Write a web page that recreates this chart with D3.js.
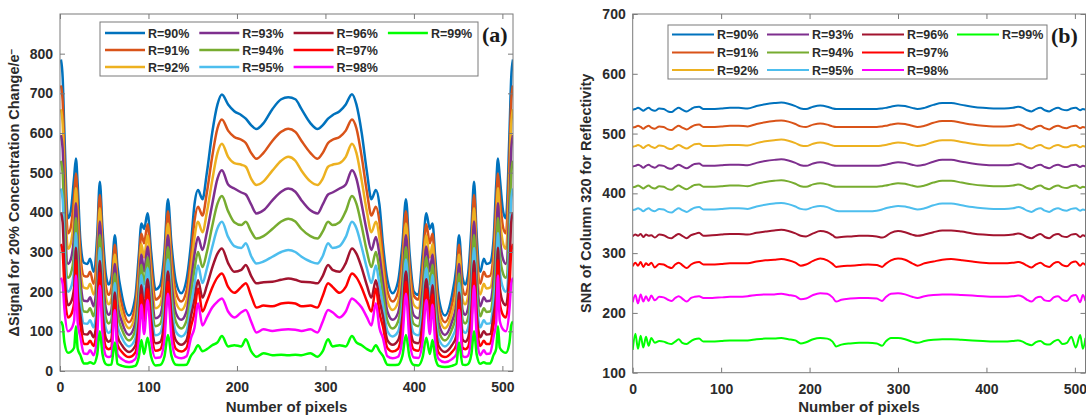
<!DOCTYPE html>
<html><head><meta charset="utf-8">
<script src="https://cdn.jsdelivr.net/npm/d3@7"></script>
<style>body{margin:0;background:#fff;} svg{display:block;}</style>
</head><body>
<svg id="chart" width="1086" height="420"></svg>
<script>
// ---------- shared ----------
const seriesNames = ["R=90%","R=91%","R=92%","R=93%","R=94%","R=95%","R=96%","R=97%","R=98%","R=99%"];
const seriesColors = ["#0072BD","#D95319","#EDB120","#7E2F8E","#77AC30","#4DBEEE","#A2142F","#FF0000","#FF00FF","#00FF00"];

// ---------- panel (a): ΔSignal ----------
const pixelsA = [1,3,5,9,12,16,18,20,23,27,31,34,38,42,45,48,52,55,58,62,65,70,78,85,89,92,95,99,103,108,113,118,122,126,131,137,143,148,152,156,161,166,172,178,183,190,197,205,210,216,222,230,240,250,258,
266,273,283,291,297,303,308,316,323,330,335,341,347,352,357,361,365,370,376,382,387,391,395,400,405,410,414,418,421,424,428,435,443,448,451,455,458,461,465,468,471,475,479,482,486,490,493,495,497,501,504,508,510,512];

const signalR90 = [785,740,600,385,400,490,536,470,330,273,270,283,250,340,477,360,240,218,235,342,262,190,140,185,290,372,358,398,300,205,215,300,433,320,225,196,230,320,420,456,433,500,600,672,697,672,655,645,636,620,610,625,660,685,690,
685,660,625,610,620,636,645,655,672,698,672,600,500,433,456,420,320,230,196,225,320,433,300,200,192,300,398,358,372,290,185,140,190,262,342,235,218,240,360,477,340,250,283,270,273,330,470,536,490,400,385,600,740,785];
const signalR91 = [720,680,540,347,360,441,498,423,297,240,238,250,220,306,444,324,211,192,207,318,231,167,123,163,261,346,322,370,270,180,189,270,403,288,198,175,202,288,378,414,392,450,540,612,634,606,590,583,575,550,535,550,580,603,611,
603,580,550,535,550,575,583,590,606,634,612,540,450,392,414,378,288,202,175,198,288,403,270,189,180,270,370,322,346,261,163,123,167,231,318,207,192,211,324,444,306,220,250,238,240,297,423,498,441,360,347,540,680,720];
const signalR92 = [660,622,480,308,320,392,461,376,264,210,208,220,193,272,410,288,185,168,181,294,202,146,108,142,232,320,286,342,240,158,166,240,372,256,173,154,177,256,336,376,350,400,480,550,573,540,524,520,515,485,469,478,505,530,540,
530,505,478,469,485,515,520,524,540,573,550,480,400,350,376,336,256,177,154,173,256,372,240,166,158,240,342,286,320,232,142,108,146,202,294,181,168,185,288,410,272,193,220,208,210,264,376,461,392,320,308,480,622,660];
const signalR93 = [595,560,420,270,280,343,423,329,231,177,176,186,163,238,377,252,156,142,153,270,170,124,91,120,203,294,251,314,210,133,140,210,342,224,146,129,150,224,294,338,305,350,420,485,506,470,460,450,445,420,397,405,430,452,460,
452,430,405,397,420,445,450,460,470,506,485,420,350,305,338,294,224,150,129,146,224,342,210,140,133,210,314,251,294,203,120,91,124,170,270,153,142,156,252,377,238,163,186,176,177,231,329,423,343,280,270,420,560,595];
const signalR94 = [530,498,366,235,244,299,386,287,201,150,149,158,138,207,343,220,132,120,129,246,144,105,77,102,177,268,218,287,183,113,118,183,312,195,124,107,127,195,256,300,262,300,365,422,441,403,375,368,376,352,334,340,358,377,384,
377,358,340,334,352,376,368,375,403,441,422,365,300,262,300,256,195,127,107,124,195,312,183,118,113,183,287,218,268,177,102,77,105,144,246,129,120,132,220,343,207,138,158,149,150,201,287,386,299,244,235,366,498,530];
const signalR95 = [460,432,312,200,208,255,348,244,172,120,119,128,110,177,310,187,106,96,103,222,115,84,62,81,151,242,186,259,156,90,95,156,281,166,99,87,101,166,218,266,222,258,312,360,376,338,315,310,322,290,271,276,288,300,305,
300,288,276,271,290,322,310,315,338,376,360,312,258,222,266,218,166,101,87,99,166,281,156,95,90,156,259,186,242,151,81,62,84,115,222,103,96,106,187,310,177,110,128,119,120,172,244,348,255,208,200,312,432,460];
const signalR96 = [400,375,258,166,172,211,311,202,142,93,92,100,85,146,277,155,82,74,80,198,89,65,48,63,125,216,154,231,129,70,73,129,251,138,77,66,78,138,181,229,185,215,260,296,309,272,250,255,267,240,221,224,225,230,233,
230,225,224,221,240,267,255,250,272,309,296,260,215,185,229,181,138,78,66,77,138,251,129,73,70,129,231,154,216,125,63,48,65,89,198,80,74,82,155,277,146,85,100,92,93,142,202,311,211,172,166,258,375,400];
const signalR97 = [320,300,210,135,140,172,279,165,116,68,68,76,63,119,248,126,60,55,59,178,66,48,35,46,102,193,125,207,105,51,54,105,225,112,56,49,58,112,147,208,150,175,210,236,246,212,197,212,221,190,160,165,163,170,172,
170,163,165,160,190,221,212,197,212,246,236,210,175,150,208,147,112,58,49,56,112,225,105,54,51,105,207,125,193,102,46,35,48,66,178,59,55,60,126,248,119,63,76,68,68,116,165,279,172,140,135,210,300,320];
const signalR98 = [235,220,156,100,104,127,241,122,86,44,43,52,40,88,215,94,38,35,38,154,42,30,22,30,75,167,93,179,78,33,34,78,195,83,36,32,37,83,109,171,115,135,160,175,183,150,135,148,154,125,97,105,101,104,105,
104,101,105,97,125,154,148,135,150,183,175,160,135,115,171,109,83,37,32,36,83,195,78,34,33,78,179,93,167,75,30,22,30,42,154,38,35,38,94,215,88,40,52,43,44,86,122,241,127,104,100,156,220,235];
const signalR99 = [125,115,72,46,48,59,113,56,40,19,19,22,18,41,100,43,17,15,16,72,18,13,10,13,35,78,43,84,36,14,15,36,91,38,16,15,16,38,50,65,50,55,65,72,88,62,65,62,80,50,36,45,40,41,40,
41,40,45,36,50,80,62,65,62,88,72,65,55,50,65,50,38,16,15,16,38,91,36,15,14,36,84,43,78,35,13,10,13,18,72,16,15,17,43,100,41,18,22,19,19,40,56,113,59,48,46,72,115,125];

const xTicksA = [0,100,200,300,400,500];
const yTicksA = [0,100,200,300,400,500,600,700,800];

// ---------- panel (b): SNR ----------
const pixelsB = [0,3,6,9,12,15,18,21,25,30,35,40,44,48,52,56,61,66,70,75,80,90,100,110,120,130,140,150,160,168,176,184,190,196,204,212,220,226,230,236,246,256,266,276,282,286,292,300,308,316,322,330,340,350,360,372,384,396,408,420,430,436,441,446,451,456,461,466,471,476,481,486,491,496,501,506,509,512];

const snrR90 = [540,541,543,541,538,541,543,540,538,542,541,537,536,540,543,540,537,541,544,545,541,541,542,543,543,542,546,549,551,552,550,546,542,541,545,547,545,542,541,541,541,541,541,541,542,543,545,547,546,543,541,543,548,551,551,548,545,543,542,542,543,545,543,539,537,541,543,539,537,541,543,540,539,542,543,539,541,540];
const snrR91 = [510,511,513,511,508,511,513,510,508,512,511,507,506,510,513,510,507,511,514,515,511,511,512,513,513,512,516,519,521,522,520,516,512,511,515,517,515,512,511,511,511,511,511,511,512,513,515,517,516,513,511,513,518,521,521,518,515,513,512,512,513,515,513,509,507,511,513,509,507,511,513,510,509,512,513,509,511,510];
const snrR92 = [478,479,481,479,476,479,481,478,476,480,479,475,474,478,481,478,475,479,482,483,479,479,480,481,481,480,484,487,489,490,488,484,480,479,483,485,483,480,479,479,479,479,479,479,480,481,483,485,484,481,479,481,486,489,489,486,483,481,480,480,481,483,481,477,475,479,481,477,475,479,481,478,477,480,481,477,479,478];
const snrR93 = [445,446,448,446,443,446,448,445,443,447,446,442,441,445,448,445,442,446,449,450,446,446,447,448,448,447,451,454,456,457,455,451,447,446,450,452,450,447,446,446,446,446,446,446,447,448,450,452,451,448,446,448,453,456,456,453,450,448,447,447,448,450,448,444,442,446,448,444,442,446,448,445,444,447,448,444,446,445];
const snrR94 = [410,411,413,411,408,411,413,410,408,412,411,407,406,410,413,410,407,411,414,415,411,411,412,413,413,412,416,419,421,422,420,416,412,411,415,417,415,412,411,411,411,411,411,411,412,413,415,417,416,413,411,413,418,421,421,418,415,413,412,412,413,415,413,409,407,411,413,409,407,411,413,410,409,412,413,409,411,410];
const snrR95 = [372,373,375,373,370,373,375,372,370,374,373,369,368,372,375,372,369,373,376,377,373,373,374,375,375,374,378,381,383,384,382,378,374,373,377,379,377,373,371,370,370,370,370,371,373,375,377,379,378,375,373,375,380,383,383,380,377,375,374,374,375,377,375,371,369,373,375,371,369,373,375,372,371,374,375,371,373,372];
const snrR96 = [328,331,329,332,327,331,329,330,326,331,330,326,325,329,332,329,325,330,332,334,329,330,331,332,332,331,334,336,338,339,337,333,329,328,333,337,335,330,326,327,328,329,329,328,326,328,334,337,335,331,329,331,335,338,338,336,333,331,330,330,331,333,331,327,325,329,332,327,325,330,332,328,327,331,332,327,330,328];
const snrR97 = [278,284,279,285,277,283,280,284,276,282,281,277,275,281,284,280,275,281,284,285,281,281,282,283,283,283,286,288,289,290,288,284,279,281,287,291,288,282,277,278,279,280,281,280,277,282,288,291,289,283,279,283,286,289,290,288,286,284,283,283,284,285,283,279,276,281,284,279,277,283,285,280,278,284,286,279,283,280];
const snrR98 = [218,230,216,231,219,228,220,229,221,227,226,222,220,225,228,224,219,225,227,228,225,225,226,227,227,228,230,231,231,232,230,228,223,224,230,233,232,226,219,222,224,225,225,224,220,226,232,233,231,227,225,228,230,231,231,230,229,228,227,227,228,229,227,222,219,225,227,221,220,226,228,222,220,228,230,218,230,220];
const snrR99 = [138,165,140,162,142,160,145,158,150,153,152,149,148,152,156,150,148,153,156,157,152,152,153,154,154,154,156,157,157,158,156,154,149,151,156,158,157,152,144,147,149,150,150,149,145,152,158,158,156,152,150,153,155,156,156,155,154,153,152,152,153,154,152,148,146,151,153,148,147,152,155,148,150,160,142,163,140,158];

const xTicksB = [0,100,200,300,400,500];
const yTicksB = [100,200,300,400,500,600,700];

// ---------- drawing ----------
const svg = d3.select("#chart");
const FONT = "'Liberation Sans', Arial, sans-serif";
const TXT = "#2b2b2b";
const FRAME = "#7a7a7a";

function drawPanel(cfg) {
  const g = svg.append("g");
  const x = d3.scaleLinear().domain(cfg.xDomain).range([cfg.left, cfg.right]);
  const y = d3.scaleLinear().domain(cfg.yDomain).range([cfg.bottom, cfg.top]);

  const clipId = cfg.id + "-clip";
  svg.append("clipPath").attr("id", clipId).append("rect")
    .attr("x", cfg.left).attr("y", cfg.top)
    .attr("width", cfg.right - cfg.left).attr("height", cfg.bottom - cfg.top);

  const line = d3.line()
    .x((d, j) => x(cfg.xs[j]))
    .y(d => y(d))
    .curve(d3.curveMonotoneX);

  const lg = g.append("g").attr("clip-path", `url(#${clipId})`);
  cfg.series.forEach((vals, i) => {
    lg.append("path").attr("d", line(vals))
      .attr("fill", "none").attr("stroke", seriesColors[i])
      .attr("stroke-width", cfg.lineW).attr("stroke-linejoin", "round");
  });

  const styleAxis = sel => {
    sel.select(".domain").remove();
    sel.selectAll(".tick line").attr("stroke", FRAME);
    sel.selectAll("text").attr("fill", TXT).style("font-family", FONT)
      .style("font-size", "14px").style("font-weight", "bold");
  };
  g.append("g").attr("transform", `translate(0,${cfg.bottom})`)
    .call(d3.axisBottom(x).tickValues(cfg.xTicks).tickSizeInner(-5).tickSizeOuter(0).tickPadding(11))
    .call(styleAxis);
  g.append("g").attr("transform", `translate(0,${cfg.top})`)
    .call(d3.axisTop(x).tickValues(cfg.xTicks).tickSizeInner(-5).tickSizeOuter(0).tickFormat(""))
    .call(styleAxis);
  g.append("g").attr("transform", `translate(${cfg.left},0)`)
    .call(d3.axisLeft(y).tickValues(cfg.yTicks).tickSizeInner(-5).tickSizeOuter(0).tickPadding(7))
    .call(styleAxis);
  g.append("g").attr("transform", `translate(${cfg.right},0)`)
    .call(d3.axisRight(y).tickValues(cfg.yTicks).tickSizeInner(-5).tickSizeOuter(0).tickFormat(""))
    .call(styleAxis);

  g.append("rect").attr("x", cfg.left).attr("y", cfg.top)
    .attr("width", cfg.right - cfg.left).attr("height", cfg.bottom - cfg.top)
    .attr("fill", "none").attr("stroke", FRAME).attr("stroke-width", 1);

  g.append("text").attr("x", (cfg.left + cfg.right) / 2).attr("y", cfg.xTitleY)
    .attr("text-anchor", "middle").attr("fill", TXT)
    .style("font-family", FONT).style("font-size", "15px").style("font-weight", "bold")
    .text("Number of pixels");

  const yt = g.append("text")
    .attr("transform", `translate(${cfg.yTitleX},${(cfg.top + cfg.bottom) / 2}) rotate(-90)`)
    .attr("text-anchor", "middle").attr("fill", TXT)
    .style("font-family", FONT).style("font-size", "14.5px").style("font-weight", "bold");
  yt.append("tspan").text(cfg.yTitle);
  if (cfg.yTitleSup) {
    yt.append("tspan").attr("dy", "-0.45em").style("font-size", "10px").text(cfg.yTitleSup);
  }

  const L = cfg.legend;
  g.append("rect").attr("x", L.x).attr("y", L.y).attr("width", L.w).attr("height", L.h)
    .attr("fill", "#fff").attr("stroke", FRAME).attr("stroke-width", 1);
  seriesNames.forEach((name, i) => {
    const col = Math.floor(i / 3), row = i % 3;
    const lx = L.lineX + col * L.pitch;
    const ly = L.rowY[row];
    g.append("line").attr("x1", lx).attr("x2", lx + L.lineLen).attr("y1", ly).attr("y2", ly)
      .attr("stroke", seriesColors[i]).attr("stroke-width", cfg.lineW);
    g.append("text").attr("x", lx + L.lineLen + 3).attr("y", ly + 4.5)
      .attr("fill", TXT).style("font-family", FONT).style("font-size", "12.5px").style("font-weight", "bold")
      .text(name);
  });

  g.append("text").attr("x", cfg.tagX).attr("y", cfg.tagY)
    .attr("fill", "#1a1a1a")
    .style("font-family", "'Liberation Serif', 'Times New Roman', serif")
    .style("font-size", "22px").style("font-weight", "bold")
    .text(cfg.tag);
}

drawPanel({
  id: "pa", left: 60, right: 513, top: 14, bottom: 371,
  xDomain: [0, 512], yDomain: [0, 900], xTicks: xTicksA, yTicks: yTicksA,
  xs: pixelsA,
  series: [signalR90, signalR91, signalR92, signalR93, signalR94, signalR95, signalR96, signalR97, signalR98, signalR99],
  lineW: 2.5,
  xTitleY: 412, yTitleX: 19,
  yTitle: "\u0394Signal for 20% Concentration Change/e", yTitleSup: "\u2212",
  legend: { x: 100, y: 22, w: 378, h: 54, lineX: 105, lineLen: 40, pitch: 94.3, rowY: [33, 50, 67] },
  tag: "(a)", tagX: 482, tagY: 42
});

drawPanel({
  id: "pb", left: 632.7, right: 1085.5, top: 14, bottom: 372.7,
  xDomain: [0, 512], yDomain: [100, 700], xTicks: xTicksB, yTicks: yTicksB,
  xs: pixelsB,
  series: [snrR90, snrR91, snrR92, snrR93, snrR94, snrR95, snrR96, snrR97, snrR98, snrR99],
  lineW: 2,
  xTitleY: 412, yTitleX: 591,
  yTitle: "SNR of Column 320 for Reflectivity", yTitleSup: null,
  legend: { x: 668, y: 25, w: 379, h: 54, lineX: 672, lineLen: 42, pitch: 95, rowY: [34.5, 52.5, 70] },
  tag: "(b)", tagX: 1051, tagY: 43
});
</script>
</body></html>
